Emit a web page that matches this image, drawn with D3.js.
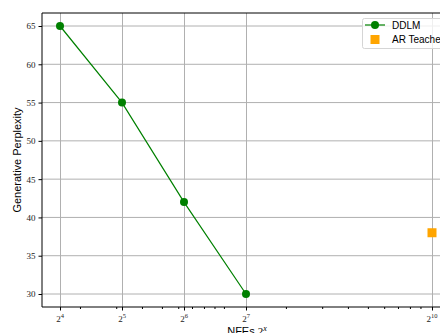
<!DOCTYPE html>
<html><head><meta charset="utf-8">
<script src="https://cdn.jsdelivr.net/npm/d3@7"></script>
<style>body{margin:0;background:#fff}svg{display:block}</style>
</head><body>
<script>
const ddlmNFE = [16, 32, 64, 128];
const ddlmPPL = [65, 55, 42, 30];
const arNFE = [1024];
const arPPL = [38];
const yTicks = [30, 35, 40, 45, 50, 55, 60, 65];
const xMajorExp = [4, 5, 6, 7, 10];
const xMinor = [20,30,40,50,60,70,80,90,100,200,300,400,500,600,700,800,900];
const seriesNames = ["DDLM", "AR Teacher"];

const W = 440, H = 333;
const L = 42, R = 452, T = 13, B = 307;
const svg = d3.select("body").append("svg").attr("width", W).attr("height", H);

const x = d3.scaleLog().base(2).domain([Math.pow(2, 4 - 18/62), Math.pow(2, 4 + (R - 60)/62)]).range([L, R]);
const y = d3.scaleLinear().domain([30 - 13/ (268/35), 65 + 13/(268/35)]).range([B, T]);

const SANS = "Liberation Sans, Arial, Helvetica, sans-serif";
const SERIF = "Liberation Serif, DejaVu Serif, serif";

// grid
const g = svg.append("g");
g.selectAll("line.vx").data(xMajorExp).join("line")
  .attr("x1", d => Math.round(x(Math.pow(2, d))) + 0.5).attr("x2", d => Math.round(x(Math.pow(2, d))) + 0.5)
  .attr("y1", T).attr("y2", B).attr("stroke", "#b0b0b0").attr("stroke-width", 1);
g.selectAll("line.hy").data(yTicks).join("line")
  .attr("y1", d => y(d)).attr("y2", d => y(d))
  .attr("x1", L).attr("x2", R).attr("stroke", "#b0b0b0").attr("stroke-width", 1);

// axes
const xAxis = d3.axisBottom(x).tickValues(xMajorExp.map(e => Math.pow(2, e))).tickSize(3.5).tickFormat("");
const xa = svg.append("g").attr("transform", `translate(0,${B})`).call(xAxis);
xa.select(".domain").remove();
const xMinorAxis = d3.axisBottom(x).tickValues(xMinor).tickSize(2).tickFormat("");
const xm = svg.append("g").attr("transform", `translate(0,${B})`).call(xMinorAxis);
xm.select(".domain").remove();
// x tick labels with superscripts
const xl = svg.append("g");
xMajorExp.forEach(e => {
  const t = xl.append("text").attr("x", x(Math.pow(2, e))).attr("y", B + 15)
    .attr("text-anchor", "middle").attr("font-family", SERIF)
    .attr("font-size", 9).attr("fill", "#222");
  t.append("tspan").text("2");
  t.append("tspan").attr("dy", -4).attr("font-size", 6.5).text(String(e));
});

const yAxis = d3.axisLeft(y).tickValues(yTicks).tickSize(3.5).tickPadding(3).tickFormat(d3.format("d"));
const ya = svg.append("g").attr("transform", `translate(${L},0)`).call(yAxis);
ya.select(".domain").remove();
ya.selectAll("text").attr("font-family", SERIF).attr("font-size", 9).attr("fill", "#222");

// spines
[[L, L, T, B], [L, R, B, B], [L, R, T, T], [R, R, T, B]].forEach(s => {
  svg.append("line").attr("x1", s[0]).attr("x2", s[1]).attr("y1", s[2]).attr("y2", s[3]).attr("stroke", "#000").attr("stroke-width", 1);
});

// DDLM line
const pts = ddlmNFE.map((n, i) => [n, ddlmPPL[i]]);
svg.append("path").datum(pts)
  .attr("d", d3.line().x(d => x(d[0])).y(d => y(d[1])))
  .attr("fill", "none").attr("stroke", "#008000").attr("stroke-width", 1.2);
svg.selectAll("circle.dd").data(pts).join("circle")
  .attr("cx", d => x(d[0])).attr("cy", d => y(d[1])).attr("r", 4).attr("fill", "#008000");

// AR teacher
svg.selectAll("rect.ar").data(arNFE.map((n, i) => [n, arPPL[i]])).join("rect")
  .attr("x", d => x(d[0]) - 4.5).attr("y", d => y(d[1]) - 4.5).attr("width", 9).attr("height", 9).attr("fill", "#FFA500");

// legend
const lg = svg.append("g");
lg.append("rect").attr("x", 362.5).attr("y", 18.5).attr("width", 100).attr("height", 30).attr("rx", 2)
  .attr("fill", "rgba(255,255,255,0.8)").attr("stroke", "#d5d5d5").attr("stroke-width", 1);
lg.append("line").attr("x1", 365).attr("x2", 385).attr("y1", 25).attr("y2", 25).attr("stroke", "#008000").attr("stroke-width", 1.2);
lg.append("circle").attr("cx", 375).attr("cy", 25).attr("r", 4).attr("fill", "#008000");
lg.append("rect").attr("x", 370.5).attr("y", 35).attr("width", 9).attr("height", 9).attr("fill", "#FFA500");
lg.selectAll("text").data(seriesNames).join("text")
  .attr("x", 392).attr("y", (d, i) => 28.5 + i * 14)
  .attr("font-family", SANS).attr("font-size", 10).attr("fill", "#000").text(d => d);

// axis labels
svg.append("text").attr("transform", `translate(21,${(T + B) / 2}) rotate(-90)`)
  .attr("text-anchor", "middle").attr("font-family", SANS).attr("font-size", 11).text("Generative Perplexity");
const xlab = svg.append("text").attr("x", (L + R) / 2).attr("y", 335).attr("text-anchor", "middle")
  .attr("font-family", SANS).attr("font-size", 11);
xlab.append("tspan").text("NFEs ");
xlab.append("tspan").attr("font-family", SERIF).text("2");
xlab.append("tspan").attr("font-family", SERIF).attr("font-style", "italic").attr("dy", -4.5).attr("font-size", 8).text("x");
</script>
</body></html>
